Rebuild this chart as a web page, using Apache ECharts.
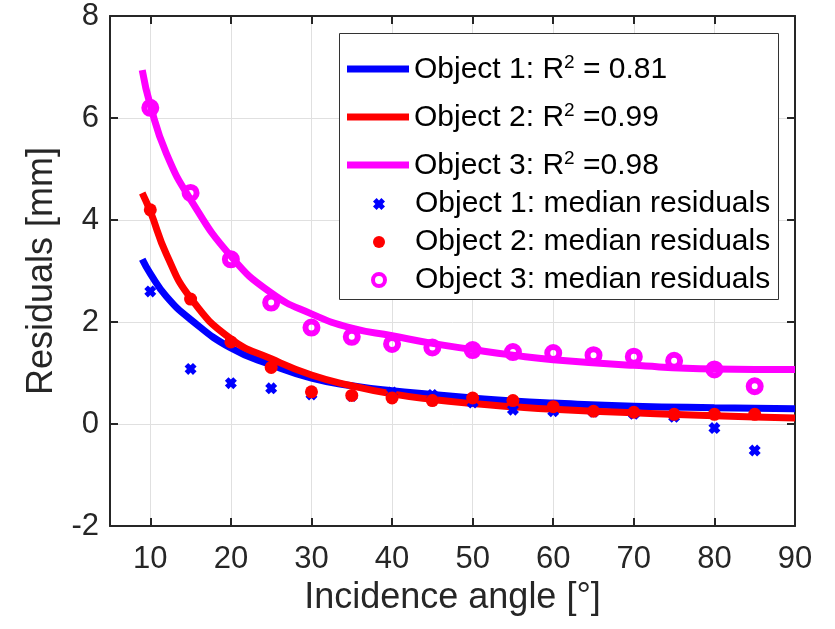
<!DOCTYPE html>
<html><head><meta charset="utf-8">
<script src="https://cdn.jsdelivr.net/npm/echarts@6/dist/echarts.min.js"></script>
<style>html,body{margin:0;padding:0;background:#fff}#c{width:835px;height:629px}</style>
</head><body><div id="c"></div>
<script>
// ---- data ----
const angles = [10, 15, 20, 25, 30, 35, 40, 45, 50, 55, 60, 65, 70, 75, 80, 85];
const obj1Median = [2.60, 1.08, 0.80, 0.70, 0.58, 0.55, 0.62, 0.57, 0.42, 0.28, 0.25, 0.24, 0.20, 0.14, -0.08, -0.52];
const obj2Median = [4.20, 2.45, 1.61, 1.11, 0.63, 0.56, 0.51, 0.46, 0.51, 0.46, 0.34, 0.25, 0.23, 0.19, 0.19, 0.19];
const obj3Median = [6.20, 4.53, 3.23, 2.38, 1.89, 1.71, 1.57, 1.50, 1.45, 1.41, 1.39, 1.35, 1.32, 1.24, 1.07, 0.74];

const fitAngles = [9, 10, 12, 15, 20, 25, 30, 35, 40, 45, 50, 55, 60, 70, 80, 90];
const obj1Fit = [3.23, 2.95, 2.50, 2.05, 1.49, 1.16, 0.90, 0.75, 0.65, 0.58, 0.51, 0.45, 0.41, 0.35, 0.32, 0.30];
const obj2Fit = [4.53, 4.17, 3.33, 2.47, 1.67, 1.28, 0.96, 0.75, 0.59, 0.48, 0.40, 0.34, 0.29, 0.22, 0.16, 0.12];
const obj3Fit = [6.94, 6.25, 5.30, 4.40, 3.29, 2.57, 2.16, 1.88, 1.73, 1.58, 1.46, 1.35, 1.26, 1.15, 1.08, 1.07];

const xTicks = [10, 20, 30, 40, 50, 60, 70, 80, 90];
const fitLabels = [['Object 1: R', '2', ' = 0.81'], ['Object 2: R', '2', ' =0.99'], ['Object 3: R', '2', ' =0.98']];
const pointLabels = ['Object 1: median residuals', 'Object 2: median residuals', 'Object 3: median residuals'];
const colors = ['#0000ff', '#ff0000', '#ff00ff'];
const xTitle = 'Incidence angle [°]';
const yTitle = 'Residuals [mm]';

// ---- build ----
const fitNames = fitLabels.map(p => p.join(''));
const zip = (xs, ys) => xs.map((x, i) => [x, ys[i]]);
const xSymbol = 'path://M0,3 L3,0 L5,2 L7,0 L10,3 L8,5 L10,7 L7,10 L5,8 L3,10 L0,7 L2,5 Z';
const axisColor = '#262626';
const font = 'Liberation Sans, Arial, Helvetica, sans-serif';

const fits = [obj1Fit, obj2Fit, obj3Fit];
const meds = [obj1Median, obj2Median, obj3Median];

const series = [];
fits.forEach((f, i) => {
  series.push({
    name: fitNames[i], type: 'line', data: zip(fitAngles, f), smooth: 0.5,
    showSymbol: false, symbol: 'none', z: 2,
    lineStyle: { color: colors[i], width: 7 }, itemStyle: { color: colors[i] }
  });
});
series.push({
  name: pointLabels[0], type: 'scatter', data: zip(angles, meds[0]), z: 3,
  symbol: xSymbol, symbolSize: 12, symbolKeepAspect: true,
  itemStyle: { color: colors[0], opacity: 1 }
});
series.push({
  name: pointLabels[1], type: 'scatter', data: zip(angles, meds[1]), z: 4,
  symbol: 'circle', symbolSize: 13,
  itemStyle: { color: colors[1], opacity: 1 }
});
series.push({
  name: pointLabels[2], type: 'scatter', data: zip(angles, meds[2]), z: 5,
  symbol: 'circle', symbolSize: 12,
  itemStyle: { color: 'rgba(255,255,255,0)', borderColor: colors[2], borderWidth: 6, opacity: 1 }
});

const fitFormatter = function (name) {
  const i = fitNames.indexOf(name);
  const p = fitLabels[i];
  return '{t|' + p[0] + '}{s|' + p[1] + '}{t|' + p[2] + '}';
};

const commonX = {
  type: 'value', min: 5, max: 90,
  axisLine: { show: true, onZero: false, lineStyle: { color: axisColor, width: 2 } },
  axisTick: { show: true, inside: true, length: 8, customValues: xTicks, lineStyle: { color: axisColor, width: 2 } },
};
const commonY = {
  type: 'value', min: -2, max: 8, interval: 2,
  axisLine: { show: true, onZero: false, lineStyle: { color: axisColor, width: 2 } },
  axisTick: { show: true, inside: true, length: 8, lineStyle: { color: axisColor, width: 2 } },
};

const option = {
  animation: false,
  backgroundColor: '#ffffff',
  grid: { left: 110, right: 40, top: 16, bottom: 103, containLabel: false },
  xAxis: [
    Object.assign({}, commonX, {
      position: 'bottom',
      name: xTitle, nameLocation: 'middle', nameGap: 40,
      nameTextStyle: { fontFamily: font, fontSize: 36, color: axisColor },
      axisLabel: { show: true, customValues: xTicks, margin: 18, fontFamily: font, fontSize: 31, color: axisColor },
      splitLine: { show: true, lineStyle: { color: '#e0e0e0', width: 1 } }
    }),
    Object.assign({}, commonX, {
      position: 'top', axisLabel: { show: false }, splitLine: { show: false }
    })
  ],
  yAxis: [
    Object.assign({}, commonY, {
      position: 'left',
      name: yTitle, nameLocation: 'middle', nameGap: 50,
      nameTextStyle: { fontFamily: font, fontSize: 36, color: axisColor },
      axisLabel: { show: true, margin: 11, fontFamily: font, fontSize: 31, color: axisColor },
      splitLine: { show: true, lineStyle: { color: '#e0e0e0', width: 1 } }
    }),
    Object.assign({}, commonY, {
      position: 'right', axisLabel: { show: false }, splitLine: { show: false }
    })
  ],
  graphic: [{
    type: 'rect', z: 50, left: 339, top: 33,
    shape: { width: 439, height: 266 },
    style: { fill: '#ffffff', stroke: '#333333', lineWidth: 1 }
  }],
  legend: [
    {
      data: fitNames, orient: 'vertical', left: 347, top: 53, padding: 0,
      itemWidth: 62, itemHeight: 7, itemGap: 16, icon: 'rect', z: 60,
      formatter: fitFormatter,
      textStyle: {
        fontFamily: font, color: '#000',
        rich: {
          t: { fontFamily: font, fontSize: 30, lineHeight: 32, color: '#000', verticalAlign: 'bottom' },
          s: { fontFamily: font, fontSize: 19, lineHeight: 19, color: '#000', verticalAlign: 'top' }
        }
      },
      selectedMode: false
    },
    {
      data: [
        { name: pointLabels[0] },
        { name: pointLabels[1] },
        { name: pointLabels[2], itemStyle: { borderWidth: 4 } }
      ],
      orient: 'vertical', left: 371, top: 189, padding: 0,
      itemWidth: 62, itemHeight: 12, itemGap: 8, z: 60,
      textStyle: { fontFamily: font, fontSize: 30, lineHeight: 30, color: '#000' },
      selectedMode: false
    }
  ],
  series: series
};

const chart = echarts.init(document.getElementById('c'), null, { renderer: 'canvas' });
chart.setOption(option);
</script>
</body></html>
